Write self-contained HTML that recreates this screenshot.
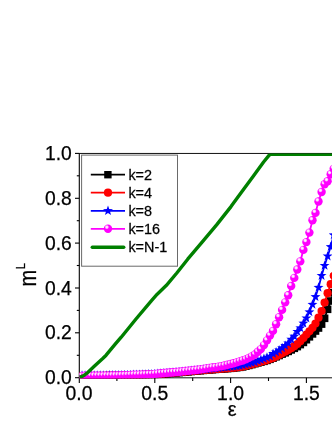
<!DOCTYPE html><html><head><meta charset="utf-8"><style>html,body{margin:0;padding:0;background:#fff}svg{display:block}text{font-family:"Liberation Sans",sans-serif;fill:#000;stroke:#000;stroke-width:0.25px}</style></head><body>
<svg width="332" height="430" viewBox="0 0 332 430">
<defs><radialGradient id="sg" cx="0.36" cy="0.30" r="0.6" fx="0.36" fy="0.30"><stop offset="0" stop-color="#fff"/><stop offset="0.22" stop-color="#ffd0ff"/><stop offset="0.45" stop-color="#ff00ff"/><stop offset="1" stop-color="#ff00ff"/></radialGradient>
<filter id="gs" x="0" y="0" width="332" height="430" filterUnits="userSpaceOnUse" color-interpolation-filters="sRGB"><feColorMatrix type="saturate" values="0"/></filter>
<clipPath id="cp"><rect x="79.3" y="153.4" width="260" height="224.8"/></clipPath></defs>
<rect width="332" height="430" fill="#fff"/>
<g stroke="#000" stroke-width="1.1" fill="none">
<line x1="79.3" y1="152.9" x2="79.3" y2="382.9"/>
<line x1="75" y1="153.4" x2="79.3" y2="153.4"/><line x1="79.3" y1="153.45" x2="332" y2="153.45" stroke-width="1" stroke="#111"/>
<line x1="75" y1="377.7" x2="79.3" y2="377.7"/><line x1="79.3" y1="377.8" x2="332" y2="377.8" stroke-width="1" stroke="#111"/>
<line x1="75" y1="332.8" x2="79.3" y2="332.8"/>
<line x1="75" y1="288.0" x2="79.3" y2="288.0"/>
<line x1="75" y1="243.1" x2="79.3" y2="243.1"/>
<line x1="75" y1="198.3" x2="79.3" y2="198.3"/>
<line x1="76.8" y1="355.3" x2="79.3" y2="355.3"/>
<line x1="76.8" y1="310.4" x2="79.3" y2="310.4"/>
<line x1="76.8" y1="265.5" x2="79.3" y2="265.5"/>
<line x1="76.8" y1="220.7" x2="79.3" y2="220.7"/>
<line x1="76.8" y1="175.8" x2="79.3" y2="175.8"/>
<line x1="154.8" y1="377.7" x2="154.8" y2="382.9"/>
<line x1="230.6" y1="377.7" x2="230.6" y2="382.9"/>
<line x1="306.4" y1="377.7" x2="306.4" y2="382.9"/>
<line x1="116.9" y1="377.7" x2="116.9" y2="381"/>
<line x1="192.7" y1="377.7" x2="192.7" y2="381"/>
<line x1="268.5" y1="377.7" x2="268.5" y2="381"/>
<line x1="344.3" y1="377.7" x2="344.3" y2="381"/>
</g>
<g clip-path="url(#cp)">
<polyline points="82.0,376.3 85.1,376.3 88.1,376.2 91.1,376.2 94.2,376.2 97.2,376.1 100.2,376.1 103.3,376.1 106.3,376.0 109.3,376.0 112.3,375.9 115.4,375.9 118.4,375.8 121.4,375.8 124.5,375.7 127.5,375.6 130.5,375.5 133.6,375.4 136.6,375.3 139.6,375.2 142.7,375.1 145.7,375.0 148.7,374.9 151.8,374.7 154.8,374.6 157.8,374.4 160.9,374.1 163.9,373.9 166.9,373.6 170.0,373.4 173.0,373.1 176.0,372.8 179.1,372.6 182.1,372.3 185.1,372.1 188.2,371.8 191.2,371.5 194.2,371.2 197.2,370.9 200.3,370.7 203.3,370.4 206.3,370.2 209.4,369.9 212.4,369.7 215.4,369.4 218.5,369.2 221.5,369.0 224.5,368.8 227.6,368.6 230.6,368.3 233.6,368.0 236.7,367.7 239.7,367.3 242.7,366.9 245.8,366.2 248.8,365.4 251.8,364.6 254.9,363.7 257.9,362.9 260.9,362.1 264.0,361.3 267.0,360.4 270.0,359.3 273.0,358.2 276.1,356.8 279.1,355.5 282.1,354.1 285.2,352.8 288.2,351.4 291.2,349.9 294.3,348.3 297.3,346.6 300.3,344.6 303.4,342.4 306.4,339.7 309.4,336.8 312.5,333.9 315.5,331.0 318.5,328.0 321.6,324.1 324.6,318.3 327.6,309.3 330.7,301.0 333.7,292.7 336.7,283.4" fill="none" stroke="#000" stroke-width="1.8"/>
<rect x="78.2" y="372.5" width="7.6" height="7.6" fill="#000"/>
<rect x="81.3" y="372.5" width="7.6" height="7.6" fill="#000"/>
<rect x="84.3" y="372.4" width="7.6" height="7.6" fill="#000"/>
<rect x="87.3" y="372.4" width="7.6" height="7.6" fill="#000"/>
<rect x="90.4" y="372.4" width="7.6" height="7.6" fill="#000"/>
<rect x="93.4" y="372.3" width="7.6" height="7.6" fill="#000"/>
<rect x="96.4" y="372.3" width="7.6" height="7.6" fill="#000"/>
<rect x="99.5" y="372.3" width="7.6" height="7.6" fill="#000"/>
<rect x="102.5" y="372.2" width="7.6" height="7.6" fill="#000"/>
<rect x="105.5" y="372.2" width="7.6" height="7.6" fill="#000"/>
<rect x="108.5" y="372.1" width="7.6" height="7.6" fill="#000"/>
<rect x="111.6" y="372.1" width="7.6" height="7.6" fill="#000"/>
<rect x="114.6" y="372.0" width="7.6" height="7.6" fill="#000"/>
<rect x="117.6" y="372.0" width="7.6" height="7.6" fill="#000"/>
<rect x="120.7" y="371.9" width="7.6" height="7.6" fill="#000"/>
<rect x="123.7" y="371.8" width="7.6" height="7.6" fill="#000"/>
<rect x="126.7" y="371.7" width="7.6" height="7.6" fill="#000"/>
<rect x="129.8" y="371.6" width="7.6" height="7.6" fill="#000"/>
<rect x="132.8" y="371.5" width="7.6" height="7.6" fill="#000"/>
<rect x="135.8" y="371.4" width="7.6" height="7.6" fill="#000"/>
<rect x="138.9" y="371.3" width="7.6" height="7.6" fill="#000"/>
<rect x="141.9" y="371.2" width="7.6" height="7.6" fill="#000"/>
<rect x="144.9" y="371.1" width="7.6" height="7.6" fill="#000"/>
<rect x="148.0" y="370.9" width="7.6" height="7.6" fill="#000"/>
<rect x="151.0" y="370.8" width="7.6" height="7.6" fill="#000"/>
<rect x="154.0" y="370.6" width="7.6" height="7.6" fill="#000"/>
<rect x="157.1" y="370.3" width="7.6" height="7.6" fill="#000"/>
<rect x="160.1" y="370.1" width="7.6" height="7.6" fill="#000"/>
<rect x="163.1" y="369.8" width="7.6" height="7.6" fill="#000"/>
<rect x="166.2" y="369.6" width="7.6" height="7.6" fill="#000"/>
<rect x="169.2" y="369.3" width="7.6" height="7.6" fill="#000"/>
<rect x="172.2" y="369.0" width="7.6" height="7.6" fill="#000"/>
<rect x="175.3" y="368.8" width="7.6" height="7.6" fill="#000"/>
<rect x="178.3" y="368.5" width="7.6" height="7.6" fill="#000"/>
<rect x="181.3" y="368.3" width="7.6" height="7.6" fill="#000"/>
<rect x="184.3" y="368.0" width="7.6" height="7.6" fill="#000"/>
<rect x="187.4" y="367.7" width="7.6" height="7.6" fill="#000"/>
<rect x="190.4" y="367.4" width="7.6" height="7.6" fill="#000"/>
<rect x="193.4" y="367.1" width="7.6" height="7.6" fill="#000"/>
<rect x="196.5" y="366.9" width="7.6" height="7.6" fill="#000"/>
<rect x="199.5" y="366.6" width="7.6" height="7.6" fill="#000"/>
<rect x="202.5" y="366.4" width="7.6" height="7.6" fill="#000"/>
<rect x="205.6" y="366.1" width="7.6" height="7.6" fill="#000"/>
<rect x="208.6" y="365.9" width="7.6" height="7.6" fill="#000"/>
<rect x="211.6" y="365.6" width="7.6" height="7.6" fill="#000"/>
<rect x="214.7" y="365.4" width="7.6" height="7.6" fill="#000"/>
<rect x="217.7" y="365.2" width="7.6" height="7.6" fill="#000"/>
<rect x="220.7" y="365.0" width="7.6" height="7.6" fill="#000"/>
<rect x="223.8" y="364.8" width="7.6" height="7.6" fill="#000"/>
<rect x="226.8" y="364.5" width="7.6" height="7.6" fill="#000"/>
<rect x="229.8" y="364.2" width="7.6" height="7.6" fill="#000"/>
<rect x="232.9" y="363.9" width="7.6" height="7.6" fill="#000"/>
<rect x="235.9" y="363.5" width="7.6" height="7.6" fill="#000"/>
<rect x="238.9" y="363.1" width="7.6" height="7.6" fill="#000"/>
<rect x="242.0" y="362.4" width="7.6" height="7.6" fill="#000"/>
<rect x="245.0" y="361.6" width="7.6" height="7.6" fill="#000"/>
<rect x="248.0" y="360.8" width="7.6" height="7.6" fill="#000"/>
<rect x="251.1" y="359.9" width="7.6" height="7.6" fill="#000"/>
<rect x="254.1" y="359.1" width="7.6" height="7.6" fill="#000"/>
<rect x="257.1" y="358.3" width="7.6" height="7.6" fill="#000"/>
<rect x="260.2" y="357.5" width="7.6" height="7.6" fill="#000"/>
<rect x="263.2" y="356.6" width="7.6" height="7.6" fill="#000"/>
<rect x="266.2" y="355.5" width="7.6" height="7.6" fill="#000"/>
<rect x="269.2" y="354.4" width="7.6" height="7.6" fill="#000"/>
<rect x="272.3" y="353.0" width="7.6" height="7.6" fill="#000"/>
<rect x="275.3" y="351.7" width="7.6" height="7.6" fill="#000"/>
<rect x="278.3" y="350.3" width="7.6" height="7.6" fill="#000"/>
<rect x="281.4" y="349.0" width="7.6" height="7.6" fill="#000"/>
<rect x="284.4" y="347.6" width="7.6" height="7.6" fill="#000"/>
<rect x="287.4" y="346.1" width="7.6" height="7.6" fill="#000"/>
<rect x="290.5" y="344.5" width="7.6" height="7.6" fill="#000"/>
<rect x="293.5" y="342.8" width="7.6" height="7.6" fill="#000"/>
<rect x="296.5" y="340.8" width="7.6" height="7.6" fill="#000"/>
<rect x="299.6" y="338.6" width="7.6" height="7.6" fill="#000"/>
<rect x="302.6" y="335.9" width="7.6" height="7.6" fill="#000"/>
<rect x="305.6" y="333.0" width="7.6" height="7.6" fill="#000"/>
<rect x="308.7" y="330.1" width="7.6" height="7.6" fill="#000"/>
<rect x="311.7" y="327.2" width="7.6" height="7.6" fill="#000"/>
<rect x="314.7" y="324.2" width="7.6" height="7.6" fill="#000"/>
<rect x="317.8" y="320.3" width="7.6" height="7.6" fill="#000"/>
<rect x="320.8" y="314.5" width="7.6" height="7.6" fill="#000"/>
<rect x="323.8" y="305.5" width="7.6" height="7.6" fill="#000"/>
<rect x="326.9" y="297.2" width="7.6" height="7.6" fill="#000"/>
<rect x="329.9" y="288.9" width="7.6" height="7.6" fill="#000"/>
<rect x="332.9" y="279.6" width="7.6" height="7.6" fill="#000"/>
<polyline points="82.0,376.0 85.1,376.0 88.1,375.9 91.1,375.9 94.2,375.9 97.2,375.8 100.2,375.8 103.3,375.8 106.3,375.7 109.3,375.7 112.3,375.6 115.4,375.6 118.4,375.5 121.4,375.5 124.5,375.4 127.5,375.3 130.5,375.2 133.6,375.1 136.6,375.0 139.6,374.9 142.7,374.8 145.7,374.7 148.7,374.6 151.8,374.4 154.8,374.3 157.8,374.1 160.9,373.8 163.9,373.6 166.9,373.3 170.0,373.1 173.0,372.8 176.0,372.5 179.1,372.3 182.1,372.0 185.1,371.8 188.2,371.5 191.2,371.2 194.2,370.9 197.2,370.6 200.3,370.4 203.3,370.1 206.3,369.9 209.4,369.6 212.4,369.4 215.4,369.1 218.5,368.9 221.5,368.7 224.5,368.5 227.6,368.3 230.6,368.0 233.6,367.7 236.7,367.4 239.7,367.0 242.7,366.6 245.8,365.9 248.8,365.1 251.8,364.3 254.9,363.4 257.9,362.6 260.9,361.8 264.0,361.0 267.0,360.1 270.0,359.0 273.0,357.9 276.1,356.5 279.1,354.9 282.1,353.3 285.2,351.7 288.2,350.1 291.2,348.2 294.3,346.2 297.3,344.0 300.3,341.2 303.4,338.0 306.4,334.6 309.4,331.3 312.5,327.8 315.5,323.5 318.5,317.7 321.6,311.1 324.6,302.6 327.6,293.2 330.7,284.2 333.7,275.8 336.7,262.2" fill="none" stroke="#f00" stroke-width="1.8"/>
<circle cx="82.0" cy="376.0" r="4.1" fill="#f00"/>
<circle cx="85.1" cy="376.0" r="4.1" fill="#f00"/>
<circle cx="88.1" cy="375.9" r="4.1" fill="#f00"/>
<circle cx="91.1" cy="375.9" r="4.1" fill="#f00"/>
<circle cx="94.2" cy="375.9" r="4.1" fill="#f00"/>
<circle cx="97.2" cy="375.8" r="4.1" fill="#f00"/>
<circle cx="100.2" cy="375.8" r="4.1" fill="#f00"/>
<circle cx="103.3" cy="375.8" r="4.1" fill="#f00"/>
<circle cx="106.3" cy="375.7" r="4.1" fill="#f00"/>
<circle cx="109.3" cy="375.7" r="4.1" fill="#f00"/>
<circle cx="112.3" cy="375.6" r="4.1" fill="#f00"/>
<circle cx="115.4" cy="375.6" r="4.1" fill="#f00"/>
<circle cx="118.4" cy="375.5" r="4.1" fill="#f00"/>
<circle cx="121.4" cy="375.5" r="4.1" fill="#f00"/>
<circle cx="124.5" cy="375.4" r="4.1" fill="#f00"/>
<circle cx="127.5" cy="375.3" r="4.1" fill="#f00"/>
<circle cx="130.5" cy="375.2" r="4.1" fill="#f00"/>
<circle cx="133.6" cy="375.1" r="4.1" fill="#f00"/>
<circle cx="136.6" cy="375.0" r="4.1" fill="#f00"/>
<circle cx="139.6" cy="374.9" r="4.1" fill="#f00"/>
<circle cx="142.7" cy="374.8" r="4.1" fill="#f00"/>
<circle cx="145.7" cy="374.7" r="4.1" fill="#f00"/>
<circle cx="148.7" cy="374.6" r="4.1" fill="#f00"/>
<circle cx="151.8" cy="374.4" r="4.1" fill="#f00"/>
<circle cx="154.8" cy="374.3" r="4.1" fill="#f00"/>
<circle cx="157.8" cy="374.1" r="4.1" fill="#f00"/>
<circle cx="160.9" cy="373.8" r="4.1" fill="#f00"/>
<circle cx="163.9" cy="373.6" r="4.1" fill="#f00"/>
<circle cx="166.9" cy="373.3" r="4.1" fill="#f00"/>
<circle cx="170.0" cy="373.1" r="4.1" fill="#f00"/>
<circle cx="173.0" cy="372.8" r="4.1" fill="#f00"/>
<circle cx="176.0" cy="372.5" r="4.1" fill="#f00"/>
<circle cx="179.1" cy="372.3" r="4.1" fill="#f00"/>
<circle cx="182.1" cy="372.0" r="4.1" fill="#f00"/>
<circle cx="185.1" cy="371.8" r="4.1" fill="#f00"/>
<circle cx="188.2" cy="371.5" r="4.1" fill="#f00"/>
<circle cx="191.2" cy="371.2" r="4.1" fill="#f00"/>
<circle cx="194.2" cy="370.9" r="4.1" fill="#f00"/>
<circle cx="197.2" cy="370.6" r="4.1" fill="#f00"/>
<circle cx="200.3" cy="370.4" r="4.1" fill="#f00"/>
<circle cx="203.3" cy="370.1" r="4.1" fill="#f00"/>
<circle cx="206.3" cy="369.9" r="4.1" fill="#f00"/>
<circle cx="209.4" cy="369.6" r="4.1" fill="#f00"/>
<circle cx="212.4" cy="369.4" r="4.1" fill="#f00"/>
<circle cx="215.4" cy="369.1" r="4.1" fill="#f00"/>
<circle cx="218.5" cy="368.9" r="4.1" fill="#f00"/>
<circle cx="221.5" cy="368.7" r="4.1" fill="#f00"/>
<circle cx="224.5" cy="368.5" r="4.1" fill="#f00"/>
<circle cx="227.6" cy="368.3" r="4.1" fill="#f00"/>
<circle cx="230.6" cy="368.0" r="4.1" fill="#f00"/>
<circle cx="233.6" cy="367.7" r="4.1" fill="#f00"/>
<circle cx="236.7" cy="367.4" r="4.1" fill="#f00"/>
<circle cx="239.7" cy="367.0" r="4.1" fill="#f00"/>
<circle cx="242.7" cy="366.6" r="4.1" fill="#f00"/>
<circle cx="245.8" cy="365.9" r="4.1" fill="#f00"/>
<circle cx="248.8" cy="365.1" r="4.1" fill="#f00"/>
<circle cx="251.8" cy="364.3" r="4.1" fill="#f00"/>
<circle cx="254.9" cy="363.4" r="4.1" fill="#f00"/>
<circle cx="257.9" cy="362.6" r="4.1" fill="#f00"/>
<circle cx="260.9" cy="361.8" r="4.1" fill="#f00"/>
<circle cx="264.0" cy="361.0" r="4.1" fill="#f00"/>
<circle cx="267.0" cy="360.1" r="4.1" fill="#f00"/>
<circle cx="270.0" cy="359.0" r="4.1" fill="#f00"/>
<circle cx="273.0" cy="357.9" r="4.1" fill="#f00"/>
<circle cx="276.1" cy="356.5" r="4.1" fill="#f00"/>
<circle cx="279.1" cy="354.9" r="4.1" fill="#f00"/>
<circle cx="282.1" cy="353.3" r="4.1" fill="#f00"/>
<circle cx="285.2" cy="351.7" r="4.1" fill="#f00"/>
<circle cx="288.2" cy="350.1" r="4.1" fill="#f00"/>
<circle cx="291.2" cy="348.2" r="4.1" fill="#f00"/>
<circle cx="294.3" cy="346.2" r="4.1" fill="#f00"/>
<circle cx="297.3" cy="344.0" r="4.1" fill="#f00"/>
<circle cx="300.3" cy="341.2" r="4.1" fill="#f00"/>
<circle cx="303.4" cy="338.0" r="4.1" fill="#f00"/>
<circle cx="306.4" cy="334.6" r="4.1" fill="#f00"/>
<circle cx="309.4" cy="331.3" r="4.1" fill="#f00"/>
<circle cx="312.5" cy="327.8" r="4.1" fill="#f00"/>
<circle cx="315.5" cy="323.5" r="4.1" fill="#f00"/>
<circle cx="318.5" cy="317.7" r="4.1" fill="#f00"/>
<circle cx="321.6" cy="311.1" r="4.1" fill="#f00"/>
<circle cx="324.6" cy="302.6" r="4.1" fill="#f00"/>
<circle cx="327.6" cy="293.2" r="4.1" fill="#f00"/>
<circle cx="330.7" cy="284.2" r="4.1" fill="#f00"/>
<circle cx="333.7" cy="275.8" r="4.1" fill="#f00"/>
<circle cx="336.7" cy="262.2" r="4.1" fill="#f00"/>
<polyline points="82.0,375.5 85.1,375.5 88.1,375.5 91.1,375.4 94.2,375.4 97.2,375.4 100.2,375.4 103.3,375.4 106.3,375.3 109.3,375.3 112.3,375.3 115.4,375.2 118.4,375.2 121.4,375.2 124.5,375.1 127.5,375.0 130.5,374.9 133.6,374.8 136.6,374.7 139.6,374.6 142.7,374.5 145.7,374.4 148.7,374.3 151.8,374.2 154.8,374.0 157.8,373.7 160.9,373.5 163.9,373.2 166.9,373.0 170.0,372.7 173.0,372.5 176.0,372.2 179.1,372.0 182.1,371.7 185.1,371.4 188.2,371.1 191.2,370.8 194.2,370.5 197.2,370.2 200.3,369.9 203.3,369.5 206.3,369.2 209.4,368.9 212.4,368.6 215.4,368.3 218.5,368.0 221.5,367.6 224.5,367.3 227.6,367.0 230.6,366.7 233.6,366.4 236.7,366.1 239.7,365.8 242.7,365.1 245.8,364.3 248.8,363.6 251.8,362.8 254.9,362.0 257.9,360.9 260.9,359.8 264.0,358.6 267.0,357.5 270.0,356.4 273.0,353.6 276.1,352.1 279.1,350.2 282.1,348.0 285.2,345.6 288.2,343.2 291.2,339.4 294.3,336.3 297.3,331.6 300.3,328.0 303.4,323.3 306.4,318.2 309.4,312.0 312.5,304.5 315.5,296.8 318.5,287.5 321.6,275.7 324.6,265.6 327.6,256.2 330.7,246.8 333.7,235.0 336.7,216.9" fill="none" stroke="#00f" stroke-width="1.8"/>
<polygon points="82.03,370.29 83.26,373.79 86.98,373.88 84.03,376.13 85.09,379.69 82.03,377.59 78.97,379.69 80.03,376.13 77.08,373.88 80.80,373.79" fill="#00f"/>
<polygon points="85.06,370.27 86.30,373.77 90.01,373.86 87.06,376.12 88.12,379.68 85.06,377.57 82.01,379.68 83.06,376.12 80.12,373.86 83.83,373.77" fill="#00f"/>
<polygon points="88.09,370.26 89.33,373.76 93.04,373.85 90.09,376.11 91.15,379.66 88.09,377.56 85.04,379.66 86.10,376.11 83.15,373.85 86.86,373.76" fill="#00f"/>
<polygon points="91.13,370.24 92.36,373.74 96.07,373.84 93.12,376.09 94.18,379.65 91.13,377.54 88.07,379.65 89.13,376.09 86.18,373.84 89.89,373.74" fill="#00f"/>
<polygon points="94.16,370.23 95.39,373.73 99.10,373.82 96.16,376.08 97.21,379.63 94.16,377.53 91.10,379.63 92.16,376.08 89.21,373.82 92.92,373.73" fill="#00f"/>
<polygon points="97.19,370.21 98.42,373.71 102.14,373.81 99.19,376.06 100.25,379.62 97.19,377.51 94.13,379.62 95.19,376.06 92.24,373.81 95.96,373.71" fill="#00f"/>
<polygon points="100.22,370.20 101.46,373.70 105.17,373.79 102.22,376.05 103.28,379.60 100.22,377.50 97.17,379.60 98.22,376.05 95.28,373.79 98.99,373.70" fill="#00f"/>
<polygon points="103.25,370.17 104.49,373.67 108.20,373.76 105.25,376.02 106.31,379.57 103.25,377.47 100.20,379.57 101.26,376.02 98.31,373.76 102.02,373.67" fill="#00f"/>
<polygon points="106.29,370.14 107.52,373.64 111.23,373.73 108.28,375.99 109.34,379.54 106.29,377.44 103.23,379.54 104.29,375.99 101.34,373.73 105.05,373.64" fill="#00f"/>
<polygon points="109.32,370.11 110.55,373.61 114.26,373.70 111.32,375.96 112.37,379.51 109.32,377.41 106.26,379.51 107.32,375.96 104.37,373.70 108.08,373.61" fill="#00f"/>
<polygon points="112.35,370.08 113.58,373.58 117.30,373.67 114.35,375.93 115.41,379.48 112.35,377.38 109.29,379.48 110.35,375.93 107.40,373.67 111.12,373.58" fill="#00f"/>
<polygon points="115.38,370.05 116.62,373.55 120.33,373.64 117.38,375.90 118.44,379.45 115.38,377.35 112.33,379.45 113.38,375.90 110.44,373.64 114.15,373.55" fill="#00f"/>
<polygon points="118.41,370.02 119.65,373.52 123.36,373.61 120.41,375.86 121.47,379.42 118.41,377.32 115.36,379.42 116.42,375.86 113.47,373.61 117.18,373.52" fill="#00f"/>
<polygon points="121.45,369.95 122.68,373.46 126.39,373.55 123.44,375.80 124.50,379.36 121.45,377.25 118.39,379.36 119.45,375.80 116.50,373.55 120.21,373.46" fill="#00f"/>
<polygon points="124.48,369.86 125.71,373.36 129.42,373.45 126.48,375.71 127.53,379.27 124.48,377.16 121.42,379.27 122.48,375.71 119.53,373.45 123.24,373.36" fill="#00f"/>
<polygon points="127.51,369.77 128.74,373.27 132.46,373.36 129.51,375.61 130.57,379.17 127.51,377.07 124.45,379.17 125.51,375.61 122.56,373.36 126.28,373.27" fill="#00f"/>
<polygon points="130.54,369.67 131.78,373.17 135.49,373.26 132.54,375.52 133.60,379.08 130.54,376.97 127.49,379.08 128.54,375.52 125.60,373.26 129.31,373.17" fill="#00f"/>
<polygon points="133.57,369.58 134.81,373.08 138.52,373.17 135.57,375.42 136.63,378.98 133.57,376.88 130.52,378.98 131.58,375.42 128.63,373.17 132.34,373.08" fill="#00f"/>
<polygon points="136.61,369.48 137.84,372.98 141.55,373.07 138.60,375.33 139.66,378.89 136.61,376.78 133.55,378.89 134.61,375.33 131.66,373.07 135.37,372.98" fill="#00f"/>
<polygon points="139.64,369.39 140.87,372.89 144.58,372.98 141.64,375.24 142.69,378.79 139.64,376.69 136.58,378.79 137.64,375.24 134.69,372.98 138.40,372.89" fill="#00f"/>
<polygon points="142.67,369.29 143.90,372.79 147.62,372.88 144.67,375.14 145.73,378.70 142.67,376.59 139.61,378.70 140.67,375.14 137.72,372.88 141.44,372.79" fill="#00f"/>
<polygon points="145.70,369.20 146.94,372.70 150.65,372.79 147.70,375.05 148.76,378.60 145.70,376.50 142.65,378.60 143.70,375.05 140.76,372.79 144.47,372.70" fill="#00f"/>
<polygon points="148.73,369.10 149.97,372.60 153.68,372.70 150.73,374.95 151.79,378.51 148.73,376.40 145.68,378.51 146.74,374.95 143.79,372.70 147.50,372.60" fill="#00f"/>
<polygon points="151.77,369.01 153.00,372.51 156.71,372.60 153.76,374.86 154.82,378.41 151.77,376.31 148.71,378.41 149.77,374.86 146.82,372.60 150.53,372.51" fill="#00f"/>
<polygon points="154.80,368.77 156.03,372.27 159.74,372.36 156.80,374.62 157.85,378.18 154.80,376.07 151.74,378.18 152.80,374.62 149.85,372.36 153.56,372.27" fill="#00f"/>
<polygon points="157.83,368.52 159.06,372.02 162.78,372.11 159.83,374.37 160.89,377.93 157.83,375.82 154.77,377.93 155.83,374.37 152.88,372.11 156.60,372.02" fill="#00f"/>
<polygon points="160.86,368.27 162.10,371.77 165.81,371.87 162.86,374.12 163.92,377.68 160.86,375.57 157.81,377.68 158.86,374.12 155.92,371.87 159.63,371.77" fill="#00f"/>
<polygon points="163.89,368.02 165.13,371.52 168.84,371.62 165.89,373.87 166.95,377.43 163.89,375.32 160.84,377.43 161.90,373.87 158.95,371.62 162.66,371.52" fill="#00f"/>
<polygon points="166.93,367.77 168.16,371.28 171.87,371.37 168.92,373.62 169.98,377.18 166.93,375.07 163.87,377.18 164.93,373.62 161.98,371.37 165.69,371.28" fill="#00f"/>
<polygon points="169.96,367.52 171.19,371.03 174.90,371.12 171.96,373.37 173.01,376.93 169.96,374.82 166.90,376.93 167.96,373.37 165.01,371.12 168.72,371.03" fill="#00f"/>
<polygon points="172.99,367.28 174.22,370.78 177.94,370.87 174.99,373.12 176.05,376.68 172.99,374.58 169.93,376.68 170.99,373.12 168.04,370.87 171.76,370.78" fill="#00f"/>
<polygon points="176.02,367.03 177.26,370.53 180.97,370.62 178.02,372.88 179.08,376.43 176.02,374.33 172.97,376.43 174.02,372.88 171.08,370.62 174.79,370.53" fill="#00f"/>
<polygon points="179.05,366.78 180.29,370.28 184.00,370.37 181.05,372.63 182.11,376.18 179.05,374.08 176.00,376.18 177.06,372.63 174.11,370.37 177.82,370.28" fill="#00f"/>
<polygon points="182.09,366.49 183.32,369.99 187.03,370.08 184.08,372.34 185.14,375.90 182.09,373.79 179.03,375.90 180.09,372.34 177.14,370.08 180.85,369.99" fill="#00f"/>
<polygon points="185.12,366.19 186.35,369.69 190.06,369.78 187.12,372.04 188.17,375.60 185.12,373.49 182.06,375.60 183.12,372.04 180.17,369.78 183.88,369.69" fill="#00f"/>
<polygon points="188.15,365.88 189.38,369.39 193.10,369.48 190.15,371.73 191.21,375.29 188.15,373.19 185.09,375.29 186.15,371.73 183.20,369.48 186.92,369.39" fill="#00f"/>
<polygon points="191.18,365.58 192.42,369.08 196.13,369.17 193.18,371.43 194.24,374.99 191.18,372.88 188.13,374.99 189.18,371.43 186.24,369.17 189.95,369.08" fill="#00f"/>
<polygon points="194.21,365.28 195.45,368.78 199.16,368.87 196.21,371.13 197.27,374.69 194.21,372.58 191.16,374.69 192.22,371.13 189.27,368.87 192.98,368.78" fill="#00f"/>
<polygon points="197.25,364.98 198.48,368.48 202.19,368.57 199.24,370.82 200.30,374.38 197.25,372.28 194.19,374.38 195.25,370.82 192.30,368.57 196.01,368.48" fill="#00f"/>
<polygon points="200.28,364.67 201.51,368.17 205.22,368.26 202.28,370.52 203.33,374.08 200.28,371.97 197.22,374.08 198.28,370.52 195.33,368.26 199.04,368.17" fill="#00f"/>
<polygon points="203.31,364.34 204.54,367.84 208.26,367.93 205.31,370.19 206.37,373.75 203.31,371.64 200.25,373.75 201.31,370.19 198.36,367.93 202.08,367.84" fill="#00f"/>
<polygon points="206.34,364.01 207.58,367.51 211.29,367.61 208.34,369.86 209.40,373.42 206.34,371.31 203.29,373.42 204.34,369.86 201.40,367.61 205.11,367.51" fill="#00f"/>
<polygon points="209.37,363.68 210.61,367.19 214.32,367.28 211.37,369.53 212.43,373.09 209.37,370.98 206.32,373.09 207.38,369.53 204.43,367.28 208.14,367.19" fill="#00f"/>
<polygon points="212.41,363.36 213.64,366.86 217.35,366.95 214.40,369.21 215.46,372.77 212.41,370.66 209.35,372.77 210.41,369.21 207.46,366.95 211.17,366.86" fill="#00f"/>
<polygon points="215.44,363.06 216.67,366.56 220.38,366.65 217.44,368.91 218.49,372.46 215.44,370.36 212.38,372.46 213.44,368.91 210.49,366.65 214.20,366.56" fill="#00f"/>
<polygon points="218.47,362.75 219.70,366.25 223.42,366.35 220.47,368.60 221.53,372.16 218.47,370.05 215.41,372.16 216.47,368.60 213.52,366.35 217.24,366.25" fill="#00f"/>
<polygon points="221.50,362.45 222.74,365.95 226.45,366.04 223.50,368.30 224.56,371.86 221.50,369.75 218.45,371.86 219.50,368.30 216.56,366.04 220.27,365.95" fill="#00f"/>
<polygon points="224.53,362.15 225.77,365.65 229.48,365.74 226.53,368.00 227.59,371.55 224.53,369.45 221.48,371.55 222.54,368.00 219.59,365.74 223.30,365.65" fill="#00f"/>
<polygon points="227.57,361.84 228.80,365.34 232.51,365.44 229.56,367.69 230.62,371.25 227.57,369.14 224.51,371.25 225.57,367.69 222.62,365.44 226.33,365.34" fill="#00f"/>
<polygon points="230.60,361.54 231.83,365.04 235.54,365.13 232.60,367.39 233.65,370.95 230.60,368.84 227.54,370.95 228.60,367.39 225.65,365.13 229.36,365.04" fill="#00f"/>
<polygon points="233.63,361.24 234.86,364.74 238.58,364.83 235.63,367.09 236.69,370.64 233.63,368.54 230.57,370.64 231.63,367.09 228.68,364.83 232.40,364.74" fill="#00f"/>
<polygon points="236.66,360.93 237.90,364.43 241.61,364.53 238.66,366.78 239.72,370.34 236.66,368.23 233.61,370.34 234.66,366.78 231.72,364.53 235.43,364.43" fill="#00f"/>
<polygon points="239.69,360.63 240.93,364.13 244.64,364.22 241.69,366.48 242.75,370.04 239.69,367.93 236.64,370.04 237.70,366.48 234.75,364.22 238.46,364.13" fill="#00f"/>
<polygon points="242.73,359.91 243.96,363.41 247.67,363.50 244.72,365.76 245.78,369.32 242.73,367.21 239.67,369.32 240.73,365.76 237.78,363.50 241.49,363.41" fill="#00f"/>
<polygon points="245.76,359.14 246.99,362.64 250.70,362.73 247.76,364.99 248.81,368.55 245.76,366.44 242.70,368.55 243.76,364.99 240.81,362.73 244.52,362.64" fill="#00f"/>
<polygon points="248.79,358.37 250.02,361.87 253.74,361.97 250.79,364.22 251.85,367.78 248.79,365.67 245.73,367.78 246.79,364.22 243.84,361.97 247.56,361.87" fill="#00f"/>
<polygon points="251.82,357.61 253.06,361.11 256.77,361.20 253.82,363.45 254.88,367.01 251.82,364.91 248.77,367.01 249.82,363.45 246.88,361.20 250.59,361.11" fill="#00f"/>
<polygon points="254.85,356.84 256.09,360.34 259.80,360.43 256.85,362.69 257.91,366.24 254.85,364.14 251.80,366.24 252.86,362.69 249.91,360.43 253.62,360.34" fill="#00f"/>
<polygon points="257.89,355.72 259.12,359.22 262.83,359.31 259.88,361.56 260.94,365.12 257.89,363.02 254.83,365.12 255.89,361.56 252.94,359.31 256.65,359.22" fill="#00f"/>
<polygon points="260.92,354.58 262.15,358.08 265.86,358.17 262.92,360.43 263.97,363.98 260.92,361.88 257.86,363.98 258.92,360.43 255.97,358.17 259.68,358.08" fill="#00f"/>
<polygon points="263.95,353.44 265.18,356.94 268.90,357.03 265.95,359.29 267.01,362.84 263.95,360.74 260.89,362.84 261.95,359.29 259.00,357.03 262.72,356.94" fill="#00f"/>
<polygon points="266.98,352.30 268.22,355.80 271.93,355.89 268.98,358.15 270.04,361.70 266.98,359.60 263.93,361.70 264.98,358.15 262.04,355.89 265.75,355.80" fill="#00f"/>
<polygon points="270.01,351.16 271.25,354.66 274.96,354.75 272.01,357.01 273.07,360.57 270.01,358.46 266.96,360.57 268.02,357.01 265.07,354.75 268.78,354.66" fill="#00f"/>
<polygon points="273.05,348.40 274.28,351.90 277.99,351.99 275.04,354.25 276.10,357.81 273.05,355.70 269.99,357.81 271.05,354.25 268.10,351.99 271.81,351.90" fill="#00f"/>
<polygon points="276.08,346.90 277.31,350.40 281.02,350.49 278.08,352.75 279.13,356.31 276.08,354.20 273.02,356.31 274.08,352.75 271.13,350.49 274.84,350.40" fill="#00f"/>
<polygon points="279.11,345.00 280.34,348.50 284.06,348.59 281.11,350.85 282.17,354.41 279.11,352.30 276.05,354.41 277.11,350.85 274.16,348.59 277.88,348.50" fill="#00f"/>
<polygon points="282.14,342.80 283.38,346.30 287.09,346.39 284.14,348.65 285.20,352.21 282.14,350.10 279.09,352.21 280.14,348.65 277.20,346.39 280.91,346.30" fill="#00f"/>
<polygon points="285.17,340.40 286.41,343.90 290.12,343.99 287.17,346.25 288.23,349.81 285.17,347.70 282.12,349.81 283.18,346.25 280.23,343.99 283.94,343.90" fill="#00f"/>
<polygon points="288.21,338.00 289.44,341.50 293.15,341.59 290.20,343.85 291.26,347.41 288.21,345.30 285.15,347.41 286.21,343.85 283.26,341.59 286.97,341.50" fill="#00f"/>
<polygon points="291.24,334.20 292.47,337.70 296.18,337.79 293.24,340.05 294.29,343.61 291.24,341.50 288.18,343.61 289.24,340.05 286.29,337.79 290.00,337.70" fill="#00f"/>
<polygon points="294.27,331.10 295.50,334.60 299.22,334.69 296.27,336.95 297.33,340.51 294.27,338.40 291.21,340.51 292.27,336.95 289.32,334.69 293.04,334.60" fill="#00f"/>
<polygon points="297.30,326.40 298.54,329.90 302.25,329.99 299.30,332.25 300.36,335.81 297.30,333.70 294.25,335.81 295.30,332.25 292.36,329.99 296.07,329.90" fill="#00f"/>
<polygon points="300.33,322.80 301.57,326.30 305.28,326.39 302.33,328.65 303.39,332.21 300.33,330.10 297.28,332.21 298.34,328.65 295.39,326.39 299.10,326.30" fill="#00f"/>
<polygon points="303.37,318.10 304.60,321.60 308.31,321.69 305.36,323.95 306.42,327.51 303.37,325.40 300.31,327.51 301.37,323.95 298.42,321.69 302.13,321.60" fill="#00f"/>
<polygon points="306.40,313.00 307.63,316.50 311.34,316.59 308.40,318.85 309.45,322.41 306.40,320.30 303.34,322.41 304.40,318.85 301.45,316.59 305.16,316.50" fill="#00f"/>
<polygon points="309.43,306.80 310.66,310.30 314.38,310.39 311.43,312.65 312.49,316.21 309.43,314.10 306.37,316.21 307.43,312.65 304.48,310.39 308.20,310.30" fill="#00f"/>
<polygon points="312.46,299.30 313.70,302.80 317.41,302.89 314.46,305.15 315.52,308.71 312.46,306.60 309.41,308.71 310.46,305.15 307.52,302.89 311.23,302.80" fill="#00f"/>
<polygon points="315.49,291.60 316.73,295.10 320.44,295.19 317.49,297.45 318.55,301.01 315.49,298.90 312.44,301.01 313.50,297.45 310.55,295.19 314.26,295.10" fill="#00f"/>
<polygon points="318.53,282.30 319.76,285.80 323.47,285.89 320.52,288.15 321.58,291.71 318.53,289.60 315.47,291.71 316.53,288.15 313.58,285.89 317.29,285.80" fill="#00f"/>
<polygon points="321.56,270.50 322.79,274.00 326.50,274.09 323.56,276.35 324.61,279.91 321.56,277.80 318.50,279.91 319.56,276.35 316.61,274.09 320.32,274.00" fill="#00f"/>
<polygon points="324.59,260.40 325.82,263.90 329.54,263.99 326.59,266.25 327.65,269.81 324.59,267.70 321.53,269.81 322.59,266.25 319.64,263.99 323.36,263.90" fill="#00f"/>
<polygon points="327.62,251.00 328.86,254.50 332.57,254.59 329.62,256.85 330.68,260.41 327.62,258.30 324.57,260.41 325.62,256.85 322.68,254.59 326.39,254.50" fill="#00f"/>
<polygon points="330.65,241.60 331.89,245.10 335.60,245.19 332.65,247.45 333.71,251.01 330.65,248.90 327.60,251.01 328.66,247.45 325.71,245.19 329.42,245.10" fill="#00f"/>
<polygon points="333.69,229.80 334.92,233.30 338.63,233.39 335.68,235.65 336.74,239.21 333.69,237.10 330.63,239.21 331.69,235.65 328.74,233.39 332.45,233.30" fill="#00f"/>
<polygon points="336.72,211.67 337.95,215.17 341.66,215.26 338.72,217.52 339.77,221.07 336.72,218.97 333.66,221.07 334.72,217.52 331.77,215.26 335.48,215.17" fill="#00f"/>
<polyline points="82.0,375.9 85.1,375.8 88.1,375.8 91.1,375.8 94.2,375.8 97.2,375.7 100.2,375.7 103.3,375.7 106.3,375.6 109.3,375.6 112.3,375.5 115.4,375.5 118.4,375.4 121.4,375.3 124.5,375.2 127.5,375.1 130.5,375.0 133.6,374.8 136.6,374.7 139.6,374.6 142.7,374.5 145.7,374.4 148.7,374.2 151.8,374.1 154.8,373.9 157.8,373.6 160.9,373.3 163.9,373.0 166.9,372.8 170.0,372.5 173.0,372.2 176.0,372.0 179.1,371.7 182.1,371.4 185.1,371.0 188.2,370.7 191.2,370.4 194.2,370.0 197.2,369.7 200.3,369.4 203.3,368.9 206.3,368.4 209.4,367.9 212.4,367.4 215.4,367.2 218.5,366.6 221.5,366.1 224.5,365.5 227.6,364.8 230.6,364.0 233.6,363.3 236.7,362.4 239.7,361.4 242.7,360.5 245.8,359.4 248.8,357.9 251.8,356.4 254.9,354.5 257.9,351.8 260.9,349.1 264.0,345.1 267.0,340.4 270.0,335.6 273.0,330.9 276.1,324.2 279.1,317.2 282.1,309.9 285.2,302.4 288.2,295.3 291.2,286.0 294.3,277.9 297.3,269.5 300.3,261.4 303.4,249.9 306.4,242.1 309.4,232.6 312.5,220.3 315.5,212.9 318.5,201.5 321.6,192.0 324.6,184.3 327.6,181.3 330.7,174.2 333.7,168.8 336.7,160.6" fill="none" stroke="#f0f" stroke-width="1.8"/>
<circle cx="82.0" cy="375.9" r="4.2" fill="url(#sg)"/>
<circle cx="85.1" cy="375.8" r="4.2" fill="url(#sg)"/>
<circle cx="88.1" cy="375.8" r="4.2" fill="url(#sg)"/>
<circle cx="91.1" cy="375.8" r="4.2" fill="url(#sg)"/>
<circle cx="94.2" cy="375.8" r="4.2" fill="url(#sg)"/>
<circle cx="97.2" cy="375.7" r="4.2" fill="url(#sg)"/>
<circle cx="100.2" cy="375.7" r="4.2" fill="url(#sg)"/>
<circle cx="103.3" cy="375.7" r="4.2" fill="url(#sg)"/>
<circle cx="106.3" cy="375.6" r="4.2" fill="url(#sg)"/>
<circle cx="109.3" cy="375.6" r="4.2" fill="url(#sg)"/>
<circle cx="112.3" cy="375.5" r="4.2" fill="url(#sg)"/>
<circle cx="115.4" cy="375.5" r="4.2" fill="url(#sg)"/>
<circle cx="118.4" cy="375.4" r="4.2" fill="url(#sg)"/>
<circle cx="121.4" cy="375.3" r="4.2" fill="url(#sg)"/>
<circle cx="124.5" cy="375.2" r="4.2" fill="url(#sg)"/>
<circle cx="127.5" cy="375.1" r="4.2" fill="url(#sg)"/>
<circle cx="130.5" cy="375.0" r="4.2" fill="url(#sg)"/>
<circle cx="133.6" cy="374.8" r="4.2" fill="url(#sg)"/>
<circle cx="136.6" cy="374.7" r="4.2" fill="url(#sg)"/>
<circle cx="139.6" cy="374.6" r="4.2" fill="url(#sg)"/>
<circle cx="142.7" cy="374.5" r="4.2" fill="url(#sg)"/>
<circle cx="145.7" cy="374.4" r="4.2" fill="url(#sg)"/>
<circle cx="148.7" cy="374.2" r="4.2" fill="url(#sg)"/>
<circle cx="151.8" cy="374.1" r="4.2" fill="url(#sg)"/>
<circle cx="154.8" cy="373.9" r="4.2" fill="url(#sg)"/>
<circle cx="157.8" cy="373.6" r="4.2" fill="url(#sg)"/>
<circle cx="160.9" cy="373.3" r="4.2" fill="url(#sg)"/>
<circle cx="163.9" cy="373.0" r="4.2" fill="url(#sg)"/>
<circle cx="166.9" cy="372.8" r="4.2" fill="url(#sg)"/>
<circle cx="170.0" cy="372.5" r="4.2" fill="url(#sg)"/>
<circle cx="173.0" cy="372.2" r="4.2" fill="url(#sg)"/>
<circle cx="176.0" cy="372.0" r="4.2" fill="url(#sg)"/>
<circle cx="179.1" cy="371.7" r="4.2" fill="url(#sg)"/>
<circle cx="182.1" cy="371.4" r="4.2" fill="url(#sg)"/>
<circle cx="185.1" cy="371.0" r="4.2" fill="url(#sg)"/>
<circle cx="188.2" cy="370.7" r="4.2" fill="url(#sg)"/>
<circle cx="191.2" cy="370.4" r="4.2" fill="url(#sg)"/>
<circle cx="194.2" cy="370.0" r="4.2" fill="url(#sg)"/>
<circle cx="197.2" cy="369.7" r="4.2" fill="url(#sg)"/>
<circle cx="200.3" cy="369.4" r="4.2" fill="url(#sg)"/>
<circle cx="203.3" cy="368.9" r="4.2" fill="url(#sg)"/>
<circle cx="206.3" cy="368.4" r="4.2" fill="url(#sg)"/>
<circle cx="209.4" cy="367.9" r="4.2" fill="url(#sg)"/>
<circle cx="212.4" cy="367.4" r="4.2" fill="url(#sg)"/>
<circle cx="215.4" cy="367.2" r="4.2" fill="url(#sg)"/>
<circle cx="218.5" cy="366.6" r="4.2" fill="url(#sg)"/>
<circle cx="221.5" cy="366.1" r="4.2" fill="url(#sg)"/>
<circle cx="224.5" cy="365.5" r="4.2" fill="url(#sg)"/>
<circle cx="227.6" cy="364.8" r="4.2" fill="url(#sg)"/>
<circle cx="230.6" cy="364.0" r="4.2" fill="url(#sg)"/>
<circle cx="233.6" cy="363.3" r="4.2" fill="url(#sg)"/>
<circle cx="236.7" cy="362.4" r="4.2" fill="url(#sg)"/>
<circle cx="239.7" cy="361.4" r="4.2" fill="url(#sg)"/>
<circle cx="242.7" cy="360.5" r="4.2" fill="url(#sg)"/>
<circle cx="245.8" cy="359.4" r="4.2" fill="url(#sg)"/>
<circle cx="248.8" cy="357.9" r="4.2" fill="url(#sg)"/>
<circle cx="251.8" cy="356.4" r="4.2" fill="url(#sg)"/>
<circle cx="254.9" cy="354.5" r="4.2" fill="url(#sg)"/>
<circle cx="257.9" cy="351.8" r="4.2" fill="url(#sg)"/>
<circle cx="260.9" cy="349.1" r="4.2" fill="url(#sg)"/>
<circle cx="264.0" cy="345.1" r="4.2" fill="url(#sg)"/>
<circle cx="267.0" cy="340.4" r="4.2" fill="url(#sg)"/>
<circle cx="270.0" cy="335.6" r="4.2" fill="url(#sg)"/>
<circle cx="273.0" cy="330.9" r="4.2" fill="url(#sg)"/>
<circle cx="276.1" cy="324.2" r="4.2" fill="url(#sg)"/>
<circle cx="279.1" cy="317.2" r="4.2" fill="url(#sg)"/>
<circle cx="282.1" cy="309.9" r="4.2" fill="url(#sg)"/>
<circle cx="285.2" cy="302.4" r="4.2" fill="url(#sg)"/>
<circle cx="288.2" cy="295.3" r="4.2" fill="url(#sg)"/>
<circle cx="291.2" cy="286.0" r="4.2" fill="url(#sg)"/>
<circle cx="294.3" cy="277.9" r="4.2" fill="url(#sg)"/>
<circle cx="297.3" cy="269.5" r="4.2" fill="url(#sg)"/>
<circle cx="300.3" cy="261.4" r="4.2" fill="url(#sg)"/>
<circle cx="303.4" cy="249.9" r="4.2" fill="url(#sg)"/>
<circle cx="306.4" cy="242.1" r="4.2" fill="url(#sg)"/>
<circle cx="309.4" cy="232.6" r="4.2" fill="url(#sg)"/>
<circle cx="312.5" cy="220.3" r="4.2" fill="url(#sg)"/>
<circle cx="315.5" cy="212.9" r="4.2" fill="url(#sg)"/>
<circle cx="318.5" cy="201.5" r="4.2" fill="url(#sg)"/>
<circle cx="321.6" cy="192.0" r="4.2" fill="url(#sg)"/>
<circle cx="324.6" cy="184.3" r="4.2" fill="url(#sg)"/>
<circle cx="327.6" cy="181.3" r="4.2" fill="url(#sg)"/>
<circle cx="330.7" cy="174.2" r="4.2" fill="url(#sg)"/>
<circle cx="333.7" cy="168.8" r="4.2" fill="url(#sg)"/>
<circle cx="336.7" cy="160.6" r="4.2" fill="url(#sg)"/>
<polyline points="79.3,377.1 82.0,376.4 85.0,374.8 88.0,372.2 94.0,366.6 103.0,358.3 106.1,355.2 115.2,344.2 121.2,337.2 136.2,318.7 151.3,300.8 157.2,294.2 166.2,285.6 176.8,273.0 187.7,259.2 202.1,242.2 216.6,224.9 231.0,206.6 238.3,196.5 252.7,176.9 263.6,162.0 269.2,155.1 271.0,154.3 340.0,154.3" fill="none" stroke="#008000" stroke-width="3.4" stroke-linejoin="round"/>
</g>
<g filter="url(#gs)">
<text transform="translate(71.8,384.3) scale(1,1.0)" font-size="19.3" text-anchor="end">0.0</text>
<text transform="translate(71.8,339.4) scale(1,1.0)" font-size="19.3" text-anchor="end">0.2</text>
<text transform="translate(71.8,294.6) scale(1,1.0)" font-size="19.3" text-anchor="end">0.4</text>
<text transform="translate(71.8,249.7) scale(1,1.0)" font-size="19.3" text-anchor="end">0.6</text>
<text transform="translate(71.8,204.9) scale(1,1.0)" font-size="19.3" text-anchor="end">0.8</text>
<text transform="translate(71.8,160.0) scale(1,1.0)" font-size="19.3" text-anchor="end">1.0</text>
<text transform="translate(79.0,400.4) scale(1,1.01)" font-size="19.4" text-anchor="middle">0.0</text>
<text transform="translate(154.8,400.4) scale(1,1.01)" font-size="19.4" text-anchor="middle">0.5</text>
<text transform="translate(230.6,400.4) scale(1,1.01)" font-size="19.4" text-anchor="middle">1.0</text>
<text transform="translate(306.4,400.4) scale(1,1.01)" font-size="19.4" text-anchor="middle">1.5</text>
<text x="232.2" y="416.3" font-size="19.7" text-anchor="middle" font-family="Liberation Sans">ε</text>
<text transform="translate(36.4,286.6) rotate(-90) scale(1,1.15)" font-size="20">m<tspan dx="0.6" dy="-10.1" font-size="11.2">L</tspan></text>
</g>
<rect x="81.6" y="155.1" width="95.9" height="111.1" fill="#fff" stroke="#6a6a6a" stroke-width="1"/>
<line x1="90.8" y1="174.7" x2="125.0" y2="174.7" stroke="#000" stroke-width="1.8" />
<g filter="url(#gs)"><text transform="translate(128.4,179.8) scale(1,1.04)" font-size="14.4">k=2</text></g>
<line x1="90.8" y1="192.7" x2="125.0" y2="192.7" stroke="#f00" stroke-width="1.8" />
<g filter="url(#gs)"><text transform="translate(128.4,197.8) scale(1,1.04)" font-size="14.4">k=4</text></g>
<line x1="90.8" y1="210.8" x2="125.0" y2="210.8" stroke="#00f" stroke-width="1.8" />
<g filter="url(#gs)"><text transform="translate(128.4,215.9) scale(1,1.04)" font-size="14.4">k=8</text></g>
<line x1="90.8" y1="228.8" x2="125.0" y2="228.8" stroke="#f0f" stroke-width="1.8" />
<g filter="url(#gs)"><text transform="translate(128.4,233.9) scale(1,1.04)" font-size="14.4">k=16</text></g>
<line x1="92.3" y1="247.2" x2="123.7" y2="247.2" stroke="#008000" stroke-width="3.5" stroke-linecap="round"/>
<g filter="url(#gs)"><text transform="translate(128.4,252.3) scale(1,1.04)" font-size="14.4">k=N-1</text></g>
<rect x="104.2" y="171.0" width="7.4" height="7.4" fill="#000"/>
<circle cx="108" cy="192.7" r="4.1" fill="#f00"/>
<polygon points="108.00,205.60 109.23,209.10 112.95,209.19 110.00,211.45 111.06,215.01 108.00,212.90 104.94,215.01 106.00,211.45 103.05,209.19 106.77,209.10" fill="#00f"/>
<circle cx="108" cy="228.8" r="4.2" fill="url(#sg)"/>
</svg></body></html>
